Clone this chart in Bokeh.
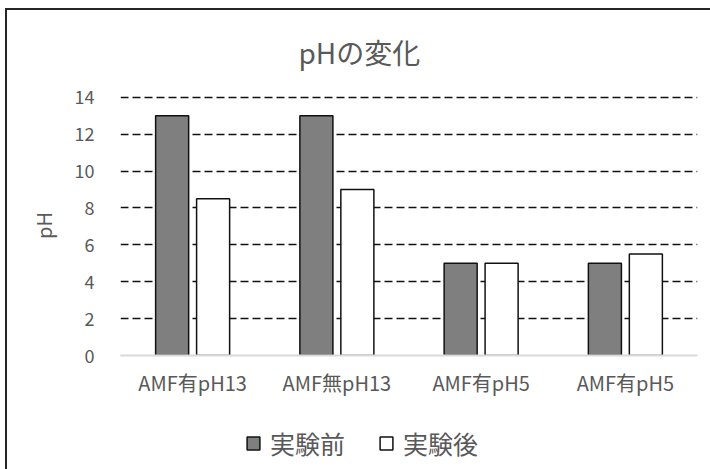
from bokeh.plotting import figure
from bokeh.layouts import column
from bokeh.models import (ColumnDataSource, Range1d, FixedTicker, Legend,
                          LegendItem)
from bokeh.transform import dodge
from bokeh.embed import file_html
from bokeh.resources import INLINE

# --- data -------------------------------------------------------------
categories = ["AMF有pH13", "AMF無pH13", "AMF有pH5", "AMF有pH5"]
before = [13, 13, 5, 5]        # 実験前
after = [8.5, 9, 5, 5.5]       # 実験後
y_ticks = [0, 2, 4, 6, 8, 10, 12, 14]
series_names = ["実験前", "実験後"]

FONT = "Noto Sans CJK JP"
TEXT = "#595959"
BEFORE_STYLE = dict(fill_color="#7f7f7f", line_color="#111111", line_width=1.5)
AFTER_STYLE = dict(fill_color="white", line_color="#111111", line_width=1.5)

idx = list(range(len(categories)))
src = ColumnDataSource(dict(x=idx, before=before, after=after))

# --- main chart -------------------------------------------------------
p = figure(width=703, height=395, frame_width=577, frame_height=260,
           output_backend="svg", toolbar_location=None,
           x_range=Range1d(-0.5, len(categories) - 0.5), y_range=Range1d(0, 14.1),
           min_border_left=113, min_border_right=13,
           min_border_top=85, min_border_bottom=50)
p.outline_line_color = None
p.background_fill_color = "white"
p.border_fill_color = "white"

bw = 0.229
off = 0.142
p.vbar(x=dodge("x", -off, range=p.x_range), top="before", width=bw, source=src,
       **BEFORE_STYLE)
p.vbar(x=dodge("x", off, range=p.x_range), top="after", width=bw, source=src,
       **AFTER_STYLE)

# grid
p.xgrid.grid_line_color = None
p.ygrid.ticker = FixedTicker(ticks=y_ticks[1:])
p.ygrid.grid_line_color = "#111111"
p.ygrid.grid_line_width = 1.5
p.ygrid.grid_line_dash = "8 4"

# y axis
p.yaxis.ticker = FixedTicker(ticks=y_ticks)
p.yaxis.axis_line_color = None
p.yaxis.major_tick_line_color = None
p.yaxis.minor_tick_line_color = None
p.yaxis.major_tick_out = 0
p.yaxis.major_label_standoff = 26
p.yaxis.major_label_text_font = FONT
p.yaxis.major_label_text_font_size = "18px"
p.yaxis.major_label_text_color = TEXT
p.yaxis.axis_label = "pH"
p.yaxis.axis_label_text_font = FONT
p.yaxis.axis_label_text_font_size = "20px"
p.yaxis.axis_label_text_font_style = "normal"
p.yaxis.axis_label_text_color = TEXT
p.yaxis.axis_label_standoff = 14

# x axis
p.xaxis.ticker = FixedTicker(ticks=idx)
p.xaxis.major_label_overrides = {i: c for i, c in zip(idx, categories)}
p.xaxis.axis_line_color = "#d9d9d9"
p.xaxis.axis_line_width = 2
p.xaxis.major_tick_line_color = None
p.xaxis.minor_tick_line_color = None
p.xaxis.major_tick_out = 0
p.xaxis.major_label_standoff = 12
p.xaxis.major_label_text_font = FONT
p.xaxis.major_label_text_font_size = "20px"
p.xaxis.major_label_text_color = TEXT

# title, shifted so it sits centred over the whole chart area
p.title.text = "pHの変化"
p.title.align = "left"
p.title.offset = 178
p.title.vertical_align = "top"
p.title.standoff = 43
p.title.text_font = FONT
p.title.text_font_size = "28px"
p.title.text_font_style = "normal"
p.title.text_color = TEXT

# --- legend strip under the chart --------------------------------------
# hidden copies of the two bar series supply the legend keys
lf = figure(width=703, height=64, output_backend="svg", toolbar_location=None,
            x_axis_type=None, y_axis_type=None,
            min_border_left=0, min_border_right=0,
            min_border_top=0, min_border_bottom=0)
lf.outline_line_color = None
lf.background_fill_color = "white"
lf.border_fill_color = "white"
lf.xgrid.grid_line_color = None
lf.ygrid.grid_line_color = None
k1 = lf.vbar(x="x", top="before", width=bw, source=src, visible=False, **BEFORE_STYLE)
k2 = lf.vbar(x="x", top="after", width=bw, source=src, visible=False, **AFTER_STYLE)

legend = Legend(items=[LegendItem(label=series_names[0], renderers=[k1]),
                       LegendItem(label=series_names[1], renderers=[k2])],
                orientation="horizontal", location=(125, 8))
legend.label_text_font = FONT
legend.label_text_font_size = "25px"
legend.label_text_color = TEXT
legend.glyph_width = 16
legend.glyph_height = 16
legend.label_standoff = 9
legend.spacing = 33
legend.padding = 0
legend.margin = 0
legend.border_line_color = None
legend.background_fill_alpha = 0
legend.inactive_fill_alpha = 0
lf.add_layout(legend, "center")

layout = column(p, lf, spacing=0)
layout.styles = {"margin-left": "5px", "margin-top": "8px",
                 "border-left": "2px solid #262626", "border-top": "2px solid #262626"}

open("out.html", "w").write(file_html(layout, INLINE))
